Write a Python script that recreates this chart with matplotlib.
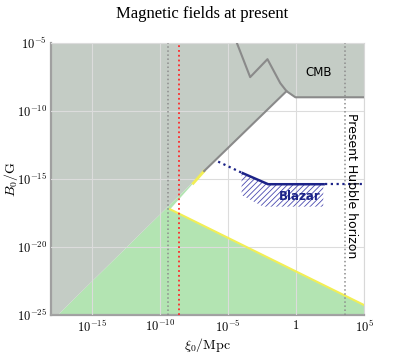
import matplotlib.pyplot as plt
import numpy as np
from matplotlib.patches import Polygon

plt.rcParams["mathtext.fontset"] = "cm"
plt.rcParams["hatch.linewidth"] = 0.6

# all positions are log10(xi0/Mpc) and log10(B0/G)
X_LIM = [-18, 5]
Y_LIM = [-25, -5]
X_TICKS = [-15, -10, -5, 0, 5]
X_TICK_LABELS = [r"$10^{-15}$", r"$10^{-10}$", r"$10^{-5}$", r"$1$", r"$10^{5}$"]
Y_TICKS = [-25, -20, -15, -10, -5]
Y_TICK_LABELS = [r"$10^{-25}$", r"$10^{-20}$", r"$10^{-15}$", r"$10^{-10}$", r"$10^{-5}$"]

# lower edge of the excluded (grey) region
GREY_EDGE_LX = [-17.5, -6.75, -0.70]
GREY_EDGE_LB = [-25.0, -14.42, -8.55]

# CMB bound
CMB_LX = [-4.35, -3.37, -2.10, -1.16, -0.70, -0.05, 5.0]
CMB_LB = [-5.0, -7.52, -6.20, -7.96, -8.55, -9.0, -9.0]

# green region: tip of the white wedge and the falling edge
TIP_LX, TIP_LB = -9.25, -17.23
FALL_LX = [-9.25, 5.0]
FALL_LB = [-17.23, -24.27]
YELLOW_SEG_LX = [-7.55, -6.75]
YELLOW_SEG_LB = [-15.32, -14.42]

# vertical markers
GREY_VLINES = [-9.39, 3.59]
RED_VLINE = -8.60

# blazar bound
BLZ_DOT1_LX = [-5.72, -4.00]
BLZ_DOT1_LB = [-13.73, -14.54]
BLZ_SOLID_LX = [-4.00, -2.05, 2.12]
BLZ_SOLID_LB = [-14.54, -15.39, -15.39]
BLZ_DOT2_LX = [2.12, 5.0]
BLZ_DOT2_LB = [-15.39, -15.39]
BLZ_HATCH_LX = [-4.00, -2.05, 2.00, 2.00, -2.41, -4.00]
BLZ_HATCH_LB = [-14.54, -15.39, -15.39, -17.04, -17.04, -16.18]

GREY = "#c4ccc5"
GREEN = "#b3e4b2"
YELLOW = "#f2ee55"
LINE_GREY = "#8a8a8a"
NAVY = "#1c2388"


def p10(v):
    return np.power(10.0, np.asarray(v, dtype=float))


fig = plt.figure(figsize=(4.05, 3.6), dpi=100)
ax = fig.add_axes([0.126, 0.125, 0.773, 0.756])
ax.set_xscale("log")
ax.set_yscale("log")
ax.set_xlim(p10(X_LIM))
ax.set_ylim(p10(Y_LIM))

# green allowed region
green_x = [GREY_EDGE_LX[0], GREY_EDGE_LX[1], TIP_LX, FALL_LX[1], X_LIM[1]]
green_y = [Y_LIM[0], GREY_EDGE_LB[1], TIP_LB, FALL_LB[1], Y_LIM[0]]
ax.add_patch(Polygon(np.column_stack([p10(green_x), p10(green_y)]),
                     closed=True, facecolor=GREEN, edgecolor="none", zorder=1))

ax.grid(True, color="#dcdcdc", lw=0.8, zorder=1.5)
ax.set_axisbelow(False)
for gl in ax.get_xgridlines() + ax.get_ygridlines():
    gl.set_zorder(1.5)

# grey excluded region
gx = GREY_EDGE_LX + CMB_LX[5:] + [X_LIM[1], X_LIM[0], X_LIM[0]]
gy = GREY_EDGE_LB + CMB_LB[5:] + [Y_LIM[1], Y_LIM[1], Y_LIM[0]]
ax.add_patch(Polygon(np.column_stack([p10(gx), p10(gy)]),
                     closed=True, facecolor=GREY, edgecolor="none", zorder=2))

ax.plot(p10(FALL_LX), p10(FALL_LB), color=YELLOW, lw=1.5, zorder=3)
ax.plot(p10(YELLOW_SEG_LX), p10(YELLOW_SEG_LB), color=YELLOW, lw=2.0, zorder=3)
ax.plot(p10(GREY_EDGE_LX[1:]), p10(GREY_EDGE_LB[1:]), color=LINE_GREY, lw=1.5, zorder=3)
ax.plot(p10(CMB_LX), p10(CMB_LB), color=LINE_GREY, lw=1.5, zorder=3)

for lx in GREY_VLINES:
    ax.axvline(10.0 ** lx, color="#8c8c8c", lw=1.1, ls=":", zorder=4)
ax.axvline(10.0 ** RED_VLINE, color="#ff2a2a", lw=1.3, ls=":", zorder=4)

# blazar
ax.add_patch(Polygon(np.column_stack([p10(BLZ_HATCH_LX), p10(BLZ_HATCH_LB)]),
                     closed=True, facecolor="none", edgecolor="#4a4ab0", lw=0,
                     hatch="//////", zorder=3))
ax.plot(p10(BLZ_SOLID_LX), p10(BLZ_SOLID_LB), color=NAVY, lw=1.8, zorder=4,
        solid_capstyle="butt")
ax.plot(p10(BLZ_DOT1_LX), p10(BLZ_DOT1_LB), color=NAVY, lw=1.6,
        ls=(0, (1, 1.6)), zorder=4)
ax.plot(p10(BLZ_DOT2_LX), p10(BLZ_DOT2_LB), color=NAVY, lw=1.6,
        ls=(0, (1, 1.6)), zorder=4)

ax.text(10.0 ** 0.28, 10.0 ** -16.3, "Blazar", color=NAVY, fontsize=8.5,
        fontweight="bold", ha="center", va="center", zorder=5)
ax.text(10.0 ** 1.68, 10.0 ** -7.18, "CMB", color="black", fontsize=8.5,
        ha="center", va="center", zorder=5)
ax.text(10.0 ** 4.09, 10.0 ** -15.5, "Present Hubble horizon", color="black",
        fontsize=9, rotation=270, ha="center", va="center", zorder=5)

ax.set_xticks(p10(X_TICKS))
ax.set_xticklabels(X_TICK_LABELS)
ax.set_yticks(p10(Y_TICKS))
ax.set_yticklabels(Y_TICK_LABELS)
ax.minorticks_off()
ax.tick_params(length=0, pad=3, labelsize=9)

for side in ["left", "bottom"]:
    ax.spines[side].set_color("#a0a0a0")
    ax.spines[side].set_linewidth(1.6)
for side in ["top", "right"]:
    ax.spines[side].set_color("#d8d8d8")
    ax.spines[side].set_linewidth(0.8)

ax.set_xlabel(r"$\xi_0/{\rm Mpc}$", fontsize=10, labelpad=1)
ax.set_ylabel(r"$B_0/{\rm G}$", fontsize=10)
ax.yaxis.set_label_coords(-0.1, 0.5)
fig.text(0.5, 0.96, "Magnetic fields at present", ha="center", va="center",
         fontsize=12, family="Liberation Serif")

fig.savefig("out.png", dpi=100)
